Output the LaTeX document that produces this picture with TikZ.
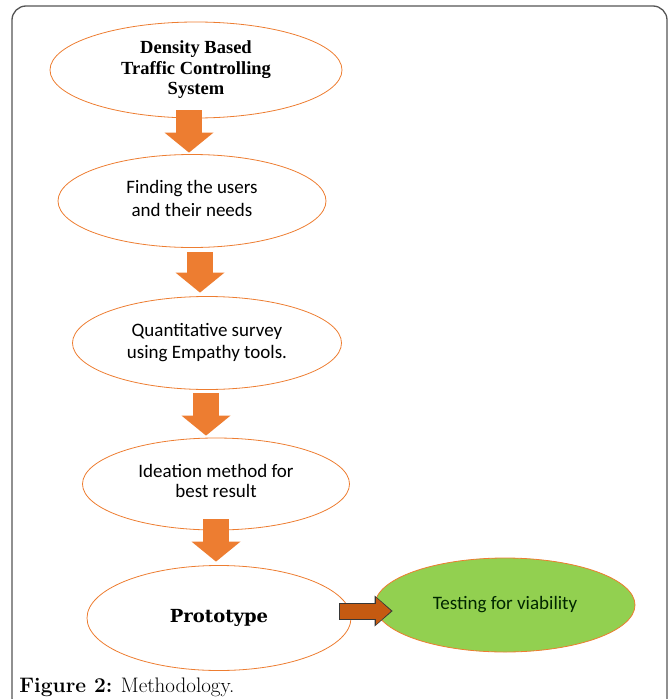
\documentclass[tikz,border=0pt]{standalone}
\usepackage{fontspec}
\newfontfamily\stepsans{Carlito}
\newfontfamily\titleserif{Liberation Serif}
\newfontfamily\protoserif{DejaVu Serif}
\usetikzlibrary{shapes.geometric,arrows.meta}
\definecolor{stepline}{RGB}{237,125,49}
\definecolor{arroworange}{RGB}{237,125,49}
\definecolor{arrowbrown}{RGB}{197,90,17}
\definecolor{arrowedge}{RGB}{55,55,55}
\definecolor{testgreen}{RGB}{146,208,80}
\definecolor{framegray}{RGB}{85,85,85}
\begin{document}
\begin{tikzpicture}[x=1pt, y=-1pt,
  every node/.style={ellipse, draw=stepline, line width=0.8pt, inner sep=0pt, align=center,
    font=\stepsans\fontsize{19}{24}\selectfont},
  downarrow/.style={draw=arroworange, line width=26pt, -{Triangle[width=49pt,length=20pt,line width=0pt]}},
  sidearrow/.style={draw=arrowedge, line width=17pt, -{Triangle[width=31pt,length=18pt,line width=0pt]},
    postaction={draw=arrowbrown, line width=15pt, shorten >=1.6pt, shorten <=1pt,
      -{Triangle[width=27pt,length=15pt,line width=0pt]}}}]
\useasboundingbox (0,0) rectangle (670,699);
\draw[framegray, line width=1.3pt, rounded corners=14pt] (12,6) rectangle (667,712);

%method steps
\node[minimum width=292, minimum height=96, font=\titleserif\bfseries\fontsize{18.5}{20.5}\selectfont] (S1) at (196,70) {Density Based\\Traffic Controlling\\System};
\node[minimum width=268, minimum height=93] (S2) at (192,201) {\raisebox{5pt}{\shortstack{Finding the users\\[3pt]and their needs}}};
\node[minimum width=269, minimum height=93] (S3) at (207,343) {\raisebox{4pt}{\shortstack{Quantitative survey\\[3pt]using Empathy tools.}}};
\node[minimum width=267, minimum height=92] (S4) at (216,484) {\raisebox{6pt}{\shortstack{Ideation method for\\[3pt]best result}}};
\node[minimum width=264, minimum height=105, font=\protoserif\bfseries\fontsize{18}{22}\selectfont] (S5) at (219,618) {Prototype};
\node[minimum width=260, minimum height=94, fill=testgreen, text=black!85!green] (T1) at (505,605) {Testing for viability};

%arrows
\draw[downarrow] ([shift={(-7,-8)}]S1.south) -- ([shift={(-3,-1.5)}]S2.north);
\draw[downarrow] ([shift={(8,4.5)}]S2.south) -- ([shift={(-7,-3.5)}]S3.north);
\draw[downarrow] ([shift={(-1,3.5)}]S3.south) -- ([shift={(-10,-2)}]S4.north);
\draw[downarrow] ([shift={(0,-11)}]S4.south) -- ([shift={(-3,-3.5)}]S5.north);
\draw[sidearrow] ([shift={(-12,-7)}]S5.east) -- ([shift={(18,6)}]T1.west);

\node[draw=none, rectangle, anchor=base west, font=\fontsize{21}{24}\selectfont] (cap) at (19,692) {\textbf{Figure 2:} Methodology.};
\end{tikzpicture}
\end{document}
